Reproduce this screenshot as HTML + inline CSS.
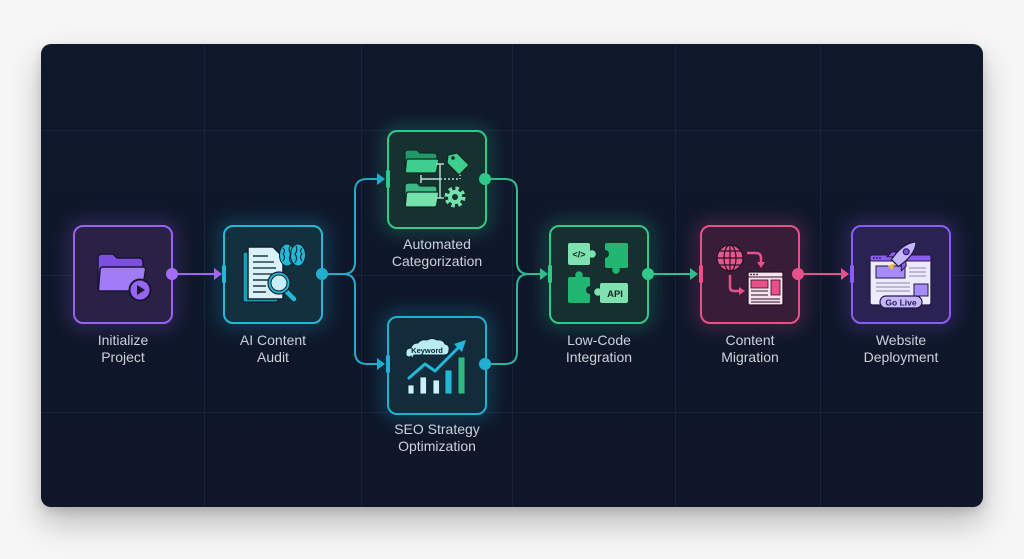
<!DOCTYPE html>
<html>
<head>
<meta charset="utf-8">
<style>
  html,body{margin:0;padding:0;background:#f6f6f7;}
  body{width:1024px;height:559px;overflow:hidden;position:relative;}
  .card{position:absolute;left:41px;top:44px;width:942px;height:463px;border-radius:10px;
    background:linear-gradient(180deg,#0f182b 0%,#0e1628 100%);
    box-shadow:0 16px 32px rgba(0,0,0,0.24),0 4px 10px rgba(0,0,0,0.12);}
  svg{position:absolute;left:0;top:0;}
  text{font-family:"Liberation Sans",sans-serif;}
</style>
</head>
<body>
<div class="card"></div>
<svg width="1024" height="559" viewBox="0 0 1024 559" xmlns="http://www.w3.org/2000/svg">
  <defs>
    <filter id="glow" x="-50%" y="-50%" width="200%" height="200%">
      <feGaussianBlur stdDeviation="9"/>
    </filter>
    <clipPath id="cardclip"><rect x="41" y="44" width="942" height="463" rx="10"/></clipPath>
  </defs>

  <!-- grid -->
  <g clip-path="url(#cardclip)" stroke="#18233a" stroke-width="1">
    <line x1="204.5" y1="44" x2="204.5" y2="507"/>
    <line x1="361.5" y1="44" x2="361.5" y2="507"/>
    <line x1="512.5" y1="44" x2="512.5" y2="507"/>
    <line x1="675.5" y1="44" x2="675.5" y2="507"/>
    <line x1="820.5" y1="44" x2="820.5" y2="507"/>
    <line x1="41" y1="130.5" x2="983" y2="130.5"/>
    <line x1="41" y1="275.5" x2="983" y2="275.5"/>
    <line x1="41" y1="412.5" x2="983" y2="412.5"/>
  </g>

  <!-- glows -->
  <g filter="url(#glow)" opacity="0.4" fill="none" stroke-width="8">
    <rect x="74" y="226" width="98" height="97" rx="9" stroke="#9b5cf0"/>
    <rect x="224" y="226" width="98" height="97" rx="9" stroke="#22b8d8"/>
    <rect x="388" y="131" width="98" height="97" rx="9" stroke="#2fc98a"/>
    <rect x="388" y="317" width="98" height="97" rx="9" stroke="#22b8d8"/>
    <rect x="550" y="226" width="98" height="97" rx="9" stroke="#2fc98a"/>
    <rect x="701" y="226" width="98" height="97" rx="9" stroke="#e8508a"/>
    <rect x="852" y="226" width="98" height="97" rx="9" stroke="#8b5cf6"/>
  </g>

  <!-- connectors -->
  <g fill="none" stroke-width="2" stroke-linecap="round">
    <line x1="172" y1="274" x2="216" y2="274" stroke="#a066f2"/>
    <path d="M323,274 H343 Q355,274 355,262 V191 Q355,179 367,179 H379" stroke="#22aacb"/>
    <path d="M323,274 H343 Q355,274 355,286 V352 Q355,364 367,364 H379" stroke="#22aacb"/>
    <path d="M485,179 H505 Q517,179 517,191 V262 Q517,274 529,274 H542" stroke="#2fc08a"/>
    <path d="M485,364 H505 Q517,364 517,352 V286 Q517,274 529,274" stroke="#2ab59c"/>
    <line x1="648" y1="274" x2="692" y2="274" stroke="#2fc08a"/>
    <line x1="798" y1="274" x2="843" y2="274" stroke="#e8508a"/>
  </g>
  <!-- arrowheads -->
  <path d="M214,268 L222,274 L214,280 Z" fill="#a066f2"/>
  <path d="M377,173 L385,179 L377,185 Z" fill="#22aacb"/>
  <path d="M377,358 L385,364 L377,370 Z" fill="#22aacb"/>
  <path d="M540,268 L548,274 L540,280 Z" fill="#2fc08a"/>
  <path d="M690,268 L698,274 L690,280 Z" fill="#2fc08a"/>
  <path d="M841,268 L849,274 L841,280 Z" fill="#e8508a"/>

  <!-- nodes -->
  <rect x="74" y="226" width="98" height="97" rx="9" fill="#2a2146" stroke="#9b62f2" stroke-width="2"/>
  <rect x="224" y="226" width="98" height="97" rx="9" fill="#13303e" stroke="#22b8d8" stroke-width="2"/>
  <rect x="388" y="131" width="98" height="97" rx="9" fill="#163230" stroke="#2fc98a" stroke-width="2"/>
  <rect x="388" y="317" width="98" height="97" rx="9" fill="#132c3b" stroke="#22b0d0" stroke-width="2"/>
  <rect x="550" y="226" width="98" height="97" rx="9" fill="#16302f" stroke="#2fc98a" stroke-width="2"/>
  <rect x="701" y="226" width="98" height="97" rx="9" fill="#381c38" stroke="#e8508a" stroke-width="2"/>
  <rect x="852" y="226" width="98" height="97" rx="9" fill="#2a2250" stroke="#8b5cf6" stroke-width="2"/>

  <!-- input ports -->
  <rect x="222" y="265" width="4" height="18" rx="1.5" fill="#22b8d8"/>
  <rect x="386" y="170" width="4" height="18" rx="1.5" fill="#2fc98a"/>
  <rect x="386" y="355" width="4" height="18" rx="1.5" fill="#22b0d0"/>
  <rect x="548" y="265" width="4" height="18" rx="1.5" fill="#2fc98a"/>
  <rect x="699" y="265" width="4" height="18" rx="1.5" fill="#e8508a"/>
  <rect x="850" y="265" width="4" height="18" rx="1.5" fill="#8b5cf6"/>

  <!-- output dots -->
  <circle cx="172" cy="274" r="6" fill="#a66cf5"/>
  <circle cx="322" cy="274" r="6" fill="#22b0d0"/>
  <circle cx="485" cy="179" r="6" fill="#2fc98a"/>
  <circle cx="485" cy="364" r="6" fill="#22b0d0"/>
  <circle cx="648" cy="274" r="6" fill="#2fc98a"/>
  <circle cx="798" cy="274" r="6" fill="#e8508a"/>

  <!-- N1 icon: folder + play -->
  <g transform="translate(74,226)">
    <path d="M24,32 q0-4 4-4 h11 l4,4 h22 q4,0 4,4 v26 q0,3-3,3 h-39 q-3,0-3-3z" fill="#7d4fe0" stroke="#1c1433" stroke-width="1.5"/>
    <path d="M28,41 h41 q3,0 2.5,3 l-3,19 q-0.5,2-3,2 h-39 q-2.5,0-2-2.5 l1.5-19 q0.5-2.5 3-2.5z" fill="#a27cf7" stroke="#1c1433" stroke-width="1.5"/>
    <circle cx="66" cy="64" r="10.5" fill="#9466f2" stroke="#1c1433" stroke-width="2"/>
    <path d="M63,59 l8,5 l-8,5z" fill="#1c1433"/>
  </g>

  <!-- N2 icon: doc + brain + magnifier -->
  <g transform="translate(224,226)">
    <rect x="19" y="26" width="35" height="50" rx="2" fill="#1b9fb8" stroke="#0b2230" stroke-width="1.2"/>
    <path d="M24,21 h25 l10,10 v42 h-35z" fill="#d8f2f8" stroke="#0b2230" stroke-width="1.5"/>
    <g stroke="#2b3f4a" stroke-width="1.6">
      <line x1="29" y1="30" x2="44" y2="30"/>
      <line x1="29" y1="36" x2="50" y2="36"/>
      <line x1="29" y1="42" x2="52" y2="42"/>
      <line x1="29" y1="48" x2="48" y2="48"/>
      <line x1="29" y1="54" x2="44" y2="54"/>
      <line x1="29" y1="60" x2="42" y2="60"/>
      <line x1="29" y1="66" x2="42" y2="66"/>
    </g>
    <g fill="#22b8d8" stroke="#0b2230" stroke-width="1">
      <ellipse cx="63" cy="29" rx="7.5" ry="11"/>
      <ellipse cx="74" cy="29" rx="7.5" ry="11"/>
    </g>
    <g stroke="#0b2230" stroke-width="1.1" fill="none">
      <path d="M59,22 q3,3 0,6 q3,3 0,7"/><path d="M66,20 q-2,4 1,8 q-3,4 0,9"/>
      <path d="M72,20 q2,4 -1,8 q3,4 0,9"/><path d="M78,22 q-3,3 0,6 q-3,3 0,7"/>
    </g>
    <line x1="62" y1="65" x2="70" y2="73" stroke="#22b8d8" stroke-width="4.5" stroke-linecap="round"/>
    <circle cx="55" cy="57" r="11" fill="#22b8d8" stroke="#0b2230" stroke-width="1.2"/>
    <circle cx="55" cy="57" r="8" fill="#c6eef6" stroke="#0b2230" stroke-width="1"/>
  </g>

  <!-- N3 icon: folders, tag, gear -->
  <g transform="translate(388,131)">
    <path d="M17,22 q0-3 3-3 h9 l3,3 h14 q3,0 3,3 v14 q0,3-3,3 h-26 q-3,0-3-3z" fill="#1f9a66" stroke="#0c2a22" stroke-width="1.2"/>
    <path d="M20,28 h29 q2,0 1.6,2 l-2,10 q-0.4,2-2.4,2 h-27 q-2,0-1.8-2 l1-10 q0.3-2 1.6-2z" fill="#3ccf8e" stroke="#0c2a22" stroke-width="1.2"/>
    <path d="M17,55 q0-3 3-3 h9 l3,3 h14 q3,0 3,3 v15 q0,3-3,3 h-26 q-3,0-3-3z" fill="#3bb883" stroke="#0c2a22" stroke-width="1.2"/>
    <path d="M20,61 h29 q2,0 1.6,2 l-2,11 q-0.4,2-2.4,2 h-27 q-2,0-1.8-2 l1-11 q0.3-2 1.6-2z" fill="#74e2ad" stroke="#0c2a22" stroke-width="1.2"/>
    <g stroke="#b6e6cf" stroke-width="1.4">
      <line x1="52" y1="33" x2="52" y2="67"/>
      <line x1="48" y1="33" x2="56" y2="33"/>
      <line x1="48" y1="67" x2="56" y2="67"/>
      <line x1="33" y1="48" x2="52" y2="48"/>
      <line x1="33" y1="44" x2="33" y2="52"/>
      <line x1="52" y1="48" x2="72" y2="48" stroke-dasharray="2 2"/>
      <line x1="72" y1="43" x2="72" y2="48" stroke-dasharray="2 2"/>
    </g>
    <path d="M60,24 l9,-2 l11,11 q1,1 0,2 l-8,8 q-1,1-2,0 l-11-11z" fill="#3ccf8e" stroke="#0c2a22" stroke-width="1.2"/>
    <circle cx="65" cy="27" r="1.8" fill="#0c2a22"/>
    <circle cx="67" cy="66" r="8.5" fill="none" stroke="#74e2ad" stroke-width="4" stroke-dasharray="3.4 3.3"/>
    <circle cx="67" cy="66" r="7" fill="#74e2ad"/>
    <circle cx="67" cy="66" r="3" fill="#163230"/>
  </g>

  <!-- N4 icon: keyword cloud + chart -->
  <g transform="translate(388,317)">
    <g fill="#b8ecf5" stroke="#0b2230" stroke-width="1">
      <path d="M22,40 q-5,0-4-5 q0-4 5-4 q1-5 7-5 q3-4 9-3 q5-3 10,0 q6-1 8,4 q5,1 4,6 q0,5-5,5 h-30 l-2,4 l-1-3z"/>
    </g>
    <text x="39" y="36" text-anchor="middle" font-size="7.5" font-weight="bold" fill="#0b2230">Keyword</text>
    <polyline points="21,61 37,47 47,54 70,31" fill="none" stroke="#22b8d8" stroke-width="3" stroke-linejoin="round" stroke-linecap="round"/>
    <path d="M66,27 L78,23 L74,35 Z" fill="#22b8d8"/>
    <rect x="20" y="68" width="6" height="9" fill="#c9f1f8" stroke="#0b2230" stroke-width="0.8"/>
    <rect x="32" y="60" width="6.5" height="17" fill="#c9f1f8" stroke="#0b2230" stroke-width="0.8"/>
    <rect x="45" y="63" width="6.5" height="14" fill="#c9f1f8" stroke="#0b2230" stroke-width="0.8"/>
    <rect x="57" y="53" width="7" height="24" fill="#22b8d8" stroke="#0b2230" stroke-width="0.8"/>
    <rect x="70" y="40" width="7" height="37" fill="#2fb87f" stroke="#0b2230" stroke-width="0.8"/>
  </g>

  <!-- N5 icon: puzzle -->
  <g transform="translate(550,226)">
    <rect x="18" y="17" width="22" height="22" rx="2" fill="#7fe0b0"/>
    <circle cx="42" cy="28" r="3.8" fill="#7fe0b0"/>
    <text x="29" y="31.5" text-anchor="middle" font-size="9" font-weight="bold" fill="#0d2a22">&lt;/&gt;</text>
    <rect x="55" y="17" width="23" height="25" rx="2" fill="#22b673"/>
    <circle cx="55" cy="28" r="4" fill="#16302f"/>
    <circle cx="66" cy="44" r="3.8" fill="#22b673"/>
    <rect x="18" y="51" width="22" height="26" rx="2" fill="#22b673"/>
    <circle cx="29" cy="49" r="3.8" fill="#22b673"/>
    <circle cx="40" cy="64" r="4" fill="#16302f"/>
    <rect x="50" y="57" width="28" height="20" rx="2" fill="#7fe0b0"/>
    <circle cx="48" cy="66" r="3.8" fill="#7fe0b0"/>
    <text x="65" y="71" text-anchor="middle" font-size="9.5" font-weight="bold" fill="#0d2a22">API</text>
  </g>

  <!-- N6 icon: globe + window -->
  <g transform="translate(701,226)">
    <circle cx="29" cy="32" r="13" fill="#e5588f" stroke="#2a1024" stroke-width="1.2"/>
    <g fill="none" stroke="#2a1024" stroke-width="1.2">
      <ellipse cx="29" cy="32" rx="6" ry="13"/>
      <line x1="29" y1="19" x2="29" y2="45"/>
      <line x1="16" y1="32" x2="42" y2="32"/>
      <path d="M18,25 h22 M18,39 h22"/>
    </g>
    <path d="M46,27 h9 q5,0 5,5 v4" fill="none" stroke="#e8508a" stroke-width="2.5"/>
    <path d="M56,36 h8 l-4,6z" fill="#e8508a"/>
    <path d="M29,49 v12 q0,4 4,4 h6" fill="none" stroke="#e8508a" stroke-width="2.5"/>
    <path d="M38,61 l6,4 l-6,4z" fill="#e8508a"/>
    <rect x="47" y="46" width="35" height="33" rx="1.5" fill="#f6e3ec" stroke="#2a1024" stroke-width="1.2"/>
    <line x1="47" y1="51" x2="82" y2="51" stroke="#2a1024" stroke-width="1"/>
    <circle cx="50" cy="48.5" r="0.9" fill="#2a1024"/><circle cx="53" cy="48.5" r="0.9" fill="#2a1024"/><circle cx="56" cy="48.5" r="0.9" fill="#2a1024"/>
    <rect x="50" y="54" width="17" height="8" fill="#e8508a" stroke="#2a1024" stroke-width="0.8"/>
    <rect x="70" y="54" width="9" height="15" fill="#e8508a" stroke="#2a1024" stroke-width="0.8"/>
    <g stroke="#2a1024" stroke-width="1">
      <line x1="50" y1="65" x2="67" y2="65"/><line x1="50" y1="69" x2="67" y2="69"/>
      <line x1="50" y1="73" x2="79" y2="73"/><line x1="50" y1="76" x2="79" y2="76"/>
    </g>
  </g>

  <!-- N7 icon: website + rocket -->
  <g transform="translate(852,226)">
    <rect x="18" y="29" width="61" height="50" rx="2.5" fill="#eeeafd" stroke="#221a44" stroke-width="1.3"/>
    <rect x="18" y="29" width="61" height="6" rx="2" fill="#8b5cf6" stroke="#221a44" stroke-width="1"/>
    <circle cx="22" cy="32" r="0.9" fill="#221a44"/><circle cx="25" cy="32" r="0.9" fill="#221a44"/><circle cx="28" cy="32" r="0.9" fill="#221a44"/>
    <rect x="24" y="40" width="29" height="12" fill="#a78bfa" stroke="#221a44" stroke-width="1"/>
    <g stroke="#8d87a8" stroke-width="1">
      <line x1="57" y1="42" x2="74" y2="42"/><line x1="57" y1="46" x2="74" y2="46"/><line x1="57" y1="50" x2="74" y2="50"/>
      <line x1="24" y1="57" x2="58" y2="57"/><line x1="24" y1="61" x2="58" y2="61"/><line x1="24" y1="65" x2="58" y2="65"/>
    </g>
    <rect x="62" y="58" width="14" height="12" fill="#a78bfa" stroke="#221a44" stroke-width="1"/>
    <rect x="28" y="70" width="42" height="12" rx="6" fill="#c4b5fd" stroke="#221a44" stroke-width="1.2"/>
    <text x="49" y="79.5" text-anchor="middle" font-size="8.5" font-weight="bold" fill="#221a44">Go Live</text>
    <g transform="translate(50,30) rotate(45)">
      <path d="M0,10 l-3,7 l6,0z" fill="#f5b93a"/>
      <path d="M-5,6 l-5,5 l0,-7 l5,-4z" fill="#8b5cf6" stroke="#221a44" stroke-width="1"/>
      <path d="M5,6 l5,5 l0,-7 l-5,-4z" fill="#8b5cf6" stroke="#221a44" stroke-width="1"/>
      <path d="M0,-20 q7,8 6,22 l-1,8 h-10 l-1,-8 q-1,-14 6,-22z" fill="#c4b5fd" stroke="#221a44" stroke-width="1.2"/>
      <circle cx="0" cy="-6" r="3" fill="#7c4ddb" stroke="#221a44" stroke-width="1"/>
    </g>
  </g>

  <!-- labels -->
  <g font-size="14" fill="#cdd2da" text-anchor="middle">
    <text x="123" y="345">Initialize</text>
    <text x="123" y="362">Project</text>
    <text x="273" y="345">AI Content</text>
    <text x="273" y="362">Audit</text>
    <text x="437" y="249">Automated</text>
    <text x="437" y="266">Categorization</text>
    <text x="437" y="434">SEO Strategy</text>
    <text x="437" y="451">Optimization</text>
    <text x="599" y="345">Low-Code</text>
    <text x="599" y="362">Integration</text>
    <text x="750" y="345">Content</text>
    <text x="750" y="362">Migration</text>
    <text x="901" y="345">Website</text>
    <text x="901" y="362">Deployment</text>
  </g>
</svg>
</body>
</html>
